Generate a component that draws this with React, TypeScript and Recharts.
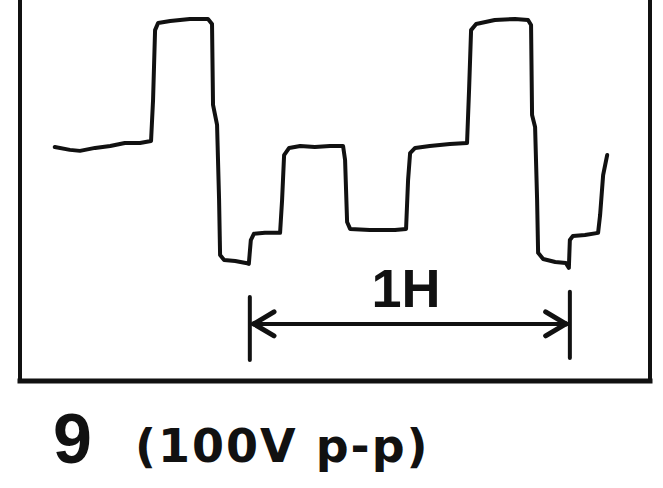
import React from 'react';
import { LineChart, Line, XAxis, YAxis, ReferenceLine, ReferenceDot } from 'recharts';

// time in microseconds, voltage in volts (trace)
const timeUs = [
  6.9, 9.9, 11.9, 14.9, 17.9, 20.8, 23.8, 26.0, 26.4, 26.8, 27.4, 29.8, 33.7, 37.3, 38.1, 38.3, 39.1, 39.5, 39.7,
  40.5, 42.7, 44.8, 45.4, 45.8, 46.4, 48.6, 51.6, 52.0, 52.4, 53.4, 55.6, 58.5, 61.5, 64.1, 64.5, 64.9, 65.5,
  69.4, 74.4, 76.6, 77.0, 77.4, 78.4, 81.3, 85.3, 88.7, 89.1, 89.5, 90.5, 94.2, 98.2, 100.8, 101.4, 101.6, 102.2,
  102.6, 102.8, 103.8, 106.2, 108.3, 108.9, 109.1, 109.7, 112.1, 114.7, 115.1, 115.7, 116.5,
];
const voltage = [
  47.8, 46.6, 46.2, 47.4, 48.2, 49.4, 49.4, 50.2, 66.8, 95.1, 98.0, 98.8, 99.6, 99.6, 97.6, 64.8, 56.7, 26.3, 4.0,
  2.0, 1.6, 0.8, 0.4, 10.1, 12.6, 13.0, 13.0, 26.3, 44.5, 47.4, 48.2, 47.8, 48.2, 48.2, 42.5, 17.4, 14.6,
  14.2, 14.2, 14.6, 34.4, 45.3, 47.4, 48.2, 49.0, 49.4, 70.9, 95.1, 97.6, 99.2, 99.6, 99.2, 97.2, 60.7, 55.9,
  26.3, 4.9, 2.4, 1.2, 0.8, -1.2, 10.1, 11.7, 12.1, 13.0, 20.2, 36.4, 44.5,
];

// one horizontal period (1H) marker
const periodStart = 45.6;
const periodEnd = 109.1;
const arrowLevel = -23.9;
const leftTickRange = [-13.0, -38.5];
const rightTickRange = [-10.9, -37.7];
const headLen = 4.0;
const headHalf = [-19.0, -28.7];
const periodLabel = '1H';
const labelPos = { t: 76.6, v: -9.1 };

const captionNumber = '9';
const captionText = '(100V p-p)';

const xDomain = [0, 125];
const yDomain = [-47, 107.3];

const data = timeUs.map((t, i) => ({ t, v: voltage[i] }));

const INK = '#111';

export default function App() {
  const seg = (x1: number, y1: number, x2: number, y2: number, w: number, key: string) => (
    <ReferenceLine
      key={key}
      yAxisId="left"
      segment={[{ x: x1, y: y1 }, { x: x2, y: y2 }]}
      stroke={INK}
      strokeWidth={w}
      strokeLinecap="round"
      ifOverflow="visible"
    />
  );
  return (
    <div style={{ position: 'absolute', left: 0, top: 0, width: 663, height: 488, background: '#fff' }}>
      <LineChart width={663} height={488} data={data} margin={{ top: 0, right: 12, bottom: 106, left: 19 }}>
        <XAxis
          type="number"
          dataKey="t"
          domain={xDomain}
          allowDataOverflow
          tick={false}
          tickLine={false}
          height={1}
          axisLine={{ stroke: INK, strokeWidth: 5, strokeLinecap: 'square' }}
        />
        <YAxis
          yAxisId="left"
          domain={yDomain}
          allowDataOverflow
          tick={false}
          tickLine={false}
          width={1}
          axisLine={{ stroke: INK, strokeWidth: 4, strokeLinecap: 'square' }}
        />
        <YAxis
          yAxisId="right"
          orientation="right"
          domain={yDomain}
          allowDataOverflow
          tick={false}
          tickLine={false}
          width={1}
          axisLine={{ stroke: INK, strokeWidth: 4, strokeLinecap: 'square' }}
        />
        <Line
          yAxisId="left"
          type="linear"
          dataKey="v"
          stroke={INK}
          strokeWidth={4}
          strokeLinejoin="round"
          strokeLinecap="round"
          dot={false}
          activeDot={false}
          isAnimationActive={false}
        />
        {seg(periodStart, leftTickRange[0], periodStart, leftTickRange[1], 4, 'lt')}
        {seg(periodEnd, rightTickRange[0], periodEnd, rightTickRange[1], 4, 'rt')}
        {seg(periodStart + 0.6, arrowLevel, periodEnd - 0.6, arrowLevel, 4, 'shaft')}
        {seg(periodStart + 0.8, arrowLevel, periodStart + 0.8 + headLen, headHalf[0], 5, 'lh1')}
        {seg(periodStart + 0.8, arrowLevel, periodStart + 0.8 + headLen, headHalf[1], 5, 'lh2')}
        {seg(periodEnd - 0.8, arrowLevel, periodEnd - 0.8 - headLen, headHalf[0], 5, 'rh1')}
        {seg(periodEnd - 0.8, arrowLevel, periodEnd - 0.8 - headLen, headHalf[1], 5, 'rh2')}
        <ReferenceDot
          yAxisId="left"
          x={labelPos.t}
          y={labelPos.v}
          r={0}
          fill="none"
          stroke="none"
          label={{
            value: periodLabel,
            position: 'center',
            fontSize: 54,
            fontWeight: 700,
            fill: INK,
            fontFamily: '"Liberation Sans", Arial, sans-serif',
          }}
        />
      </LineChart>
      <svg
        width={663}
        height={488}
        style={{ position: 'absolute', left: 0, top: 0, pointerEvents: 'none' }}
      >
        <text
          x={53}
          y={463}
          fontSize={70}
          fontWeight={700}
          fill={INK}
          fontFamily='"Liberation Sans", Arial, sans-serif'
        >
          {captionNumber}
        </text>
        <text
          x={135}
          y={462}
          fontSize={46}
          fontWeight={700}
          fill={INK}
          letterSpacing={2}
          fontFamily='"DejaVu Sans", sans-serif'
        >
          {captionText}
        </text>
      </svg>
    </div>
  );
}
